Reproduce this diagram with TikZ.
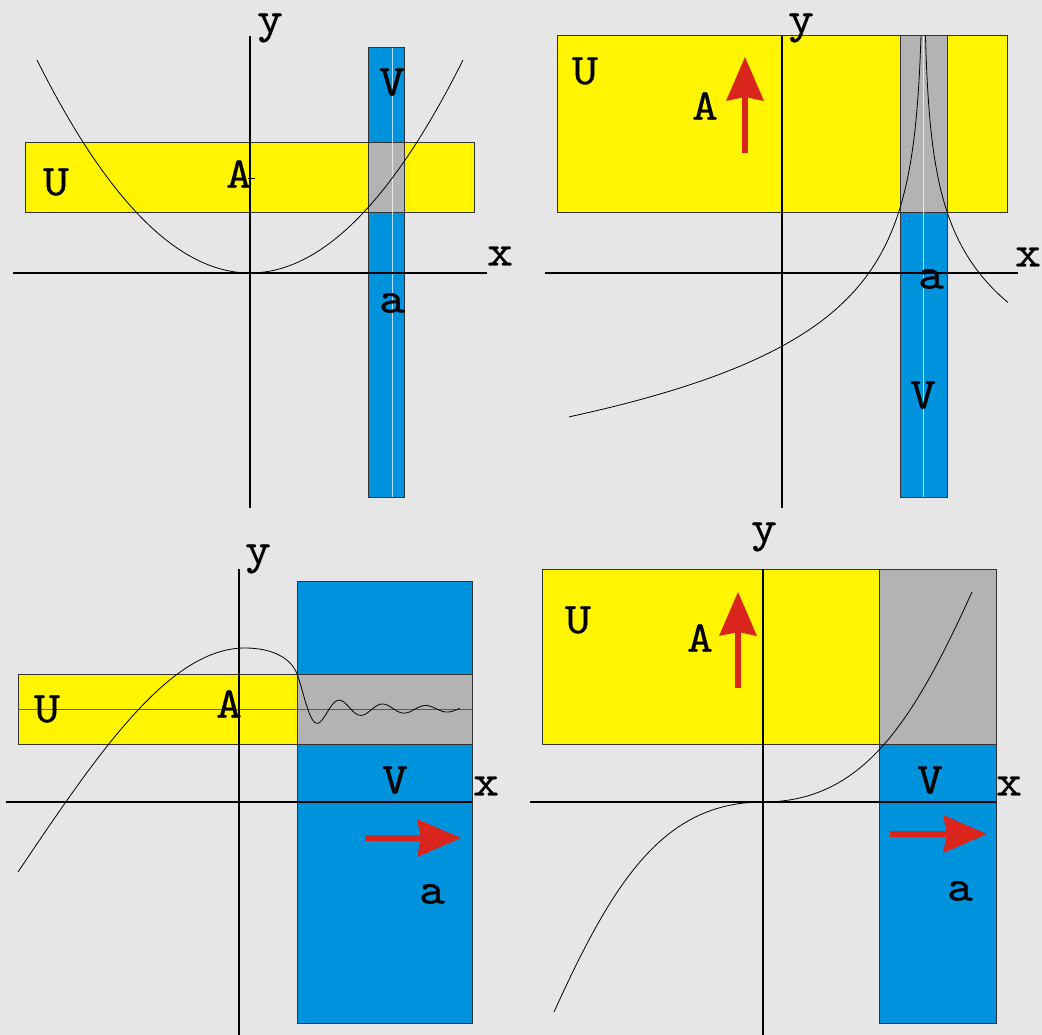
\documentclass[tikz,border=0pt]{standalone}
\usepackage{fontspec}
\usetikzlibrary{arrows.meta}

\newfontfamily\lblfont[FakeStretch=1.12, FakeBold=0.5]{lmmono10-regular.otf}

\definecolor{bgGray}{HTML}{E6E6E6}
\definecolor{uYellow}{HTML}{FFF500}
\definecolor{vBlue}{HTML}{0093DD}
\definecolor{meetGray}{HTML}{B3B3B3}
\definecolor{edgeGray}{HTML}{333333}
\definecolor{arrowRed}{HTML}{DA251D}

\begin{document}
\begin{tikzpicture}[
        x=1pt, y=-1pt,
        lbl/.style={inner sep=0pt, font=\fontsize{44}{44}\selectfont\lblfont},
        ubox/.style={fill=uYellow, draw=edgeGray, line width=1pt},
        vbox/.style={fill=vBlue, draw=edgeGray, line width=1pt},
        meetbox/.style={fill=meetGray, draw=edgeGray, line width=1pt},
        axis/.style={line width=1.2pt},
        graph/.style={line width=0.8pt},
        midline/.style={draw=white, opacity=0.7, line width=1pt},
        redarrow/.style={draw=arrowRed, line width=6.5pt,
            -{Stealth[length=44pt, width=38pt, inset=4pt, line width=0pt]}}
    ]

    % Background
    \fill[bgGray] (0,0) rectangle (1042,1035);
    \useasboundingbox (0,0) rectangle (1042,1035);

    % Panel 1: parabola
    \draw[ubox] (25,143) rectangle (474,213);
    \draw[vbox] (368,48) rectangle (404,497);
    \draw[meetbox] (368,143) rectangle (404,213);
    \draw[midline] (392,48) -- (392,497);
    \draw[axis] (250,36) -- (250,508);
    \draw[axis] (13,273) -- (487,273);
    \draw[line width=0.6pt] (248,178) -- (255,178);
    \draw[graph] plot[domain=37:463, samples=100, variable=\t] (\t, {273-213*((\t-250)/213)^2});
    \node[lbl] (y1) at (270,28) {y};
    \node[lbl] (x1) at (500,256) {x};
    \node[lbl] (U1) at (56,182) {U};
    \node[lbl] (A1) at (239,174) {A};
    \node[lbl] (V1) at (392,82) {V};
    \node[lbl] (a1) at (392,303) {a};

    % Panel 2: logarithm
    \draw[ubox] (557,36) rectangle (1007,213);
    \draw[vbox] (900,36) rectangle (947,497);
    \draw[meetbox] (900,36) rectangle (947,213);
    \draw[midline] (923.5,36) -- (923.5,497);
    \draw[axis] (782,36) -- (782,508);
    \draw[axis] (545,273) -- (1018,273);
    \draw[graph] plot[domain=0.924:5.871, samples=120, variable=\t] ({923.5-exp(\t)}, {272+77*(\t-3.989)});
    \draw[graph] plot[domain=0.683:4.437, samples=120, variable=\t] ({923.5+exp(\t)}, {272+71*(\t-4.007)});
    \draw[redarrow] (745,153) -- (745,57);
    \node[lbl] (y2) at (801,28) {y};
    \node[lbl] (x2) at (1028,257) {x};
    \node[lbl] (U2) at (585,71) {U};
    \node[lbl] (A2) at (705,106) {A};
    \node[lbl] (a2) at (931,279) {a};
    \node[lbl] (V2) at (923,395) {V};

    % Panel 3: damped wave
    \draw[vbox] (297,581) rectangle (472,1023);
    \draw[ubox] (18,674) rectangle (297,744);
    \draw[meetbox] (297,674) rectangle (472,744);
    \draw[draw=black!65, line width=1pt] (18,709) -- (472,709);
    \draw[axis] (239,569) -- (239,1035);
    \draw[axis] (6,802) -- (472,802);
    \draw[graph] (18,872) .. controls (100,750) and (170,648) .. (245,648)
        .. controls (275,648) and (292,660) .. (297,674)
        -- plot[domain=297:460, samples=150, variable=\t] (\t, {709-500/(\t-282.7)*cos(8.372*(\t-297))});
    \draw[redarrow] (365,838) -- (461,838);
    \node[lbl] (y3) at (258,559) {y};
    \node[lbl] (x3) at (486,786) {x};
    \node[lbl] (U3) at (47,709) {U};
    \node[lbl] (A3) at (229,704) {A};
    \node[lbl] (V3) at (395,780) {V};
    \node[lbl] (a3) at (432,894) {a};

    % Panel 4: cubic
    \draw[ubox] (542,569) rectangle (879,744);
    \draw[meetbox] (879,569) rectangle (996,744);
    \draw[vbox] (879,744) rectangle (996,1023);
    \draw[axis] (763,569) -- (763,1035);
    \draw[axis] (530,802) -- (996,802);
    \draw[graph] (554,1012) .. controls (613,882) and (663,802) .. (763,802)
        .. controls (863,802) and (913,722) .. (972,592);
    \draw[redarrow] (738,688) -- (738,592);
    \draw[redarrow] (890,834) -- (987,834);
    \node[lbl] (y4) at (764,537) {y};
    \node[lbl] (x4) at (1009,786) {x};
    \node[lbl] (U4) at (578,620) {U};
    \node[lbl] (A4) at (700,638) {A};
    \node[lbl] (V4) at (930,780) {V};
    \node[lbl] (a4) at (960,891) {a};

\end{tikzpicture}
\end{document}
